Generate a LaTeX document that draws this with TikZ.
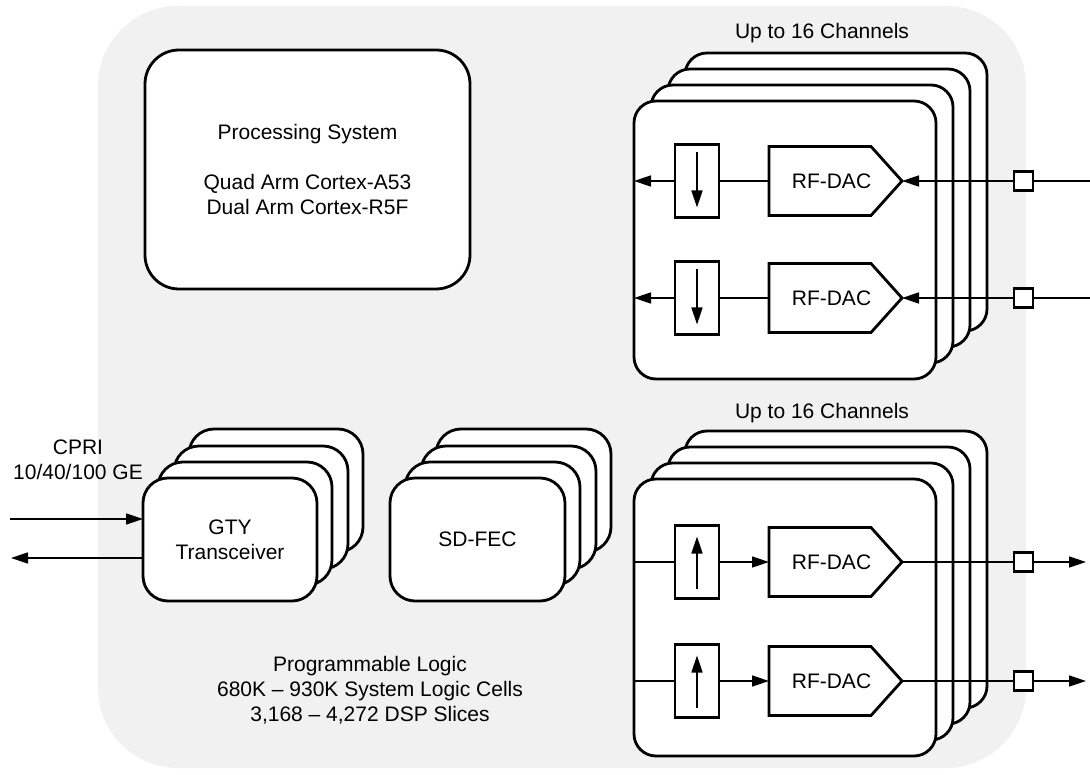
\documentclass[tikz,border=0pt]{standalone}
\usepackage{fontspec}
\setmainfont{Liberation Sans}
\usetikzlibrary{arrows.meta}
\definecolor{bggray}{RGB}{241,241,241}
\begin{document}
\begin{tikzpicture}[x=1pt,y=-1pt,
  font=\fontsize{21}{25}\selectfont,
  card/.style={draw=black, fill=white, line width=2.8pt, inner sep=0pt, outer sep=0pt, align=center},
  bigcard/.style={card, rounded corners=22pt, minimum width=302pt, minimum height=278pt},
  smallcard/.style={card, rounded corners=25pt, minimum width=174pt, minimum height=123pt},
  thinline/.style={line width=1.5pt},
  arr/.style={line width=1.5pt, -{Triangle[length=17pt,width=11pt]}},
  pad/.style={draw=black, fill=white, line width=2.6pt, minimum size=19pt, inner sep=0pt, outer sep=0pt},
  rsbox/.style={draw=black, fill=white, line width=2.8pt, minimum width=44pt, minimum height=73pt, inner sep=0pt, outer sep=0pt},
  dacbox/.style={minimum width=133pt, minimum height=69pt, inner sep=0pt, outer sep=0pt},
  dacline/.style={draw=black, line width=2.8pt, line join=miter},
  lbl/.style={align=center, inner sep=0pt}
]
\useasboundingbox (0,0) rectangle (1090,775);

% programmable logic background
\node[fill=bggray, rounded corners=80pt, minimum width=928pt, minimum height=762pt, inner sep=0pt] (pl) at (562,387) {};

% processing system
\node[card, rounded corners=34pt, minimum width=325pt, minimum height=239pt] (ps) at (307.5,169.5)
  {Processing System\\[25pt]Quad Arm Cortex-A53\\Dual Arm Cortex-R5F};

% top channel stack
\foreach \i/\dx/\dy in {3/51/-48, 2/34/-32, 1/17/-16}
  \node[bigcard] (t\i) at (785+\dx,240+\dy) {};
\node[bigcard] (t0) at (785,240) {};

% bottom channel stack
\foreach \i/\dx/\dy in {3/51/-48, 2/34/-32, 1/17/-16}
  \node[bigcard, minimum height=277pt] (b\i) at (785+\dx,617.5+\dy) {};
\node[bigcard, minimum height=277pt] (b0) at (785,617.5) {};

% GTY stack
\foreach \i/\dx/\dy in {3/46/-49, 2/31/-32, 1/15/-16}
  \node[smallcard] (g\i) at (230+\dx,539.5+\dy) {};
\node[smallcard] (g0) at (230,539.5) {GTY\\Transceiver};

% SD-FEC stack
\foreach \i/\dx/\dy in {3/46/-49, 2/31/-32, 1/15/-16}
  \node[smallcard, minimum width=175pt] (f\i) at (477.5+\dx,539.5+\dy) {};
\node[smallcard, minimum width=175pt] (f0) at (477.5,539.5) {SD-FEC};

% labels
\node[lbl] (ch1) at (822,33) {Up to 16 Channels};
\node[lbl] (ch2) at (822,413) {Up to 16 Channels};
\node[lbl] (cpri) at (78,460) {CPRI\\10/40/100 GE};
\node[lbl] (plt) at (370,690) {Programmable Logic\\680K – 930K System Logic Cells\\3,168 – 4,272 DSP Slices};

% top rows (inputs from the right)
\foreach \r/\y in {1/181, 2/298} {
  \node[rsbox] (d\r) at (697,\y) {};
  \draw[arr] ([yshift=-8pt]d\r.north) -- ([yshift=10pt]d\r.south);
  \node[dacbox] (a\r) at (835.5,\y) {RF-DAC\hspace*{8pt}};
  \draw[dacline] (a\r.north west) -- ([xshift=-31pt]a\r.north east) -- (a\r.east)
     -- ([xshift=-31pt]a\r.south east) -- (a\r.south west) -- cycle;
  \node[pad] (p\r) at (1023.5,\y) {};
  \coordinate (e\r) at (1090,\y);
  \draw[thinline] (e\r) -- (p\r.east);
  \draw[arr] (p\r.west) -- (a\r.east);
  \draw[thinline] (a\r.west) -- (d\r.east);
  \draw[arr] (d\r.west) -- (d\r.west -| t0.west);
}

% bottom rows (outputs to the right)
\foreach \r/\y in {3/562, 4/681} {
  \node[rsbox] (d\r) at (697,\y) {};
  \draw[arr] ([yshift=10pt]d\r.south) -- ([yshift=-11pt]d\r.north);
  \node[dacbox] (a\r) at (835.5,\y) {RF-DAC\hspace*{8pt}};
  \draw[dacline] (a\r.north west) -- ([xshift=-31pt]a\r.north east) -- (a\r.east)
     -- ([xshift=-31pt]a\r.south east) -- (a\r.south west) -- cycle;
  \node[pad] (p\r) at (1023.5,\y) {};
  \coordinate (o\r) at (1086,\y);
  \draw[thinline] (d\r.west -| b0.west) -- (d\r.west);
  \draw[arr] (d\r.east) -- (a\r.west);
  \draw[thinline] (a\r.east) -- (p\r.west);
  \draw[arr] (p\r.east) -- (o\r);
}

% GTY connections
\coordinate (cin) at (10,519);
\coordinate (cout) at (11,558);
\draw[arr] (cin) -- (cin -| g0.west);
\draw[arr] (cout -| g0.west) -- (cout);
\end{tikzpicture}
\end{document}
